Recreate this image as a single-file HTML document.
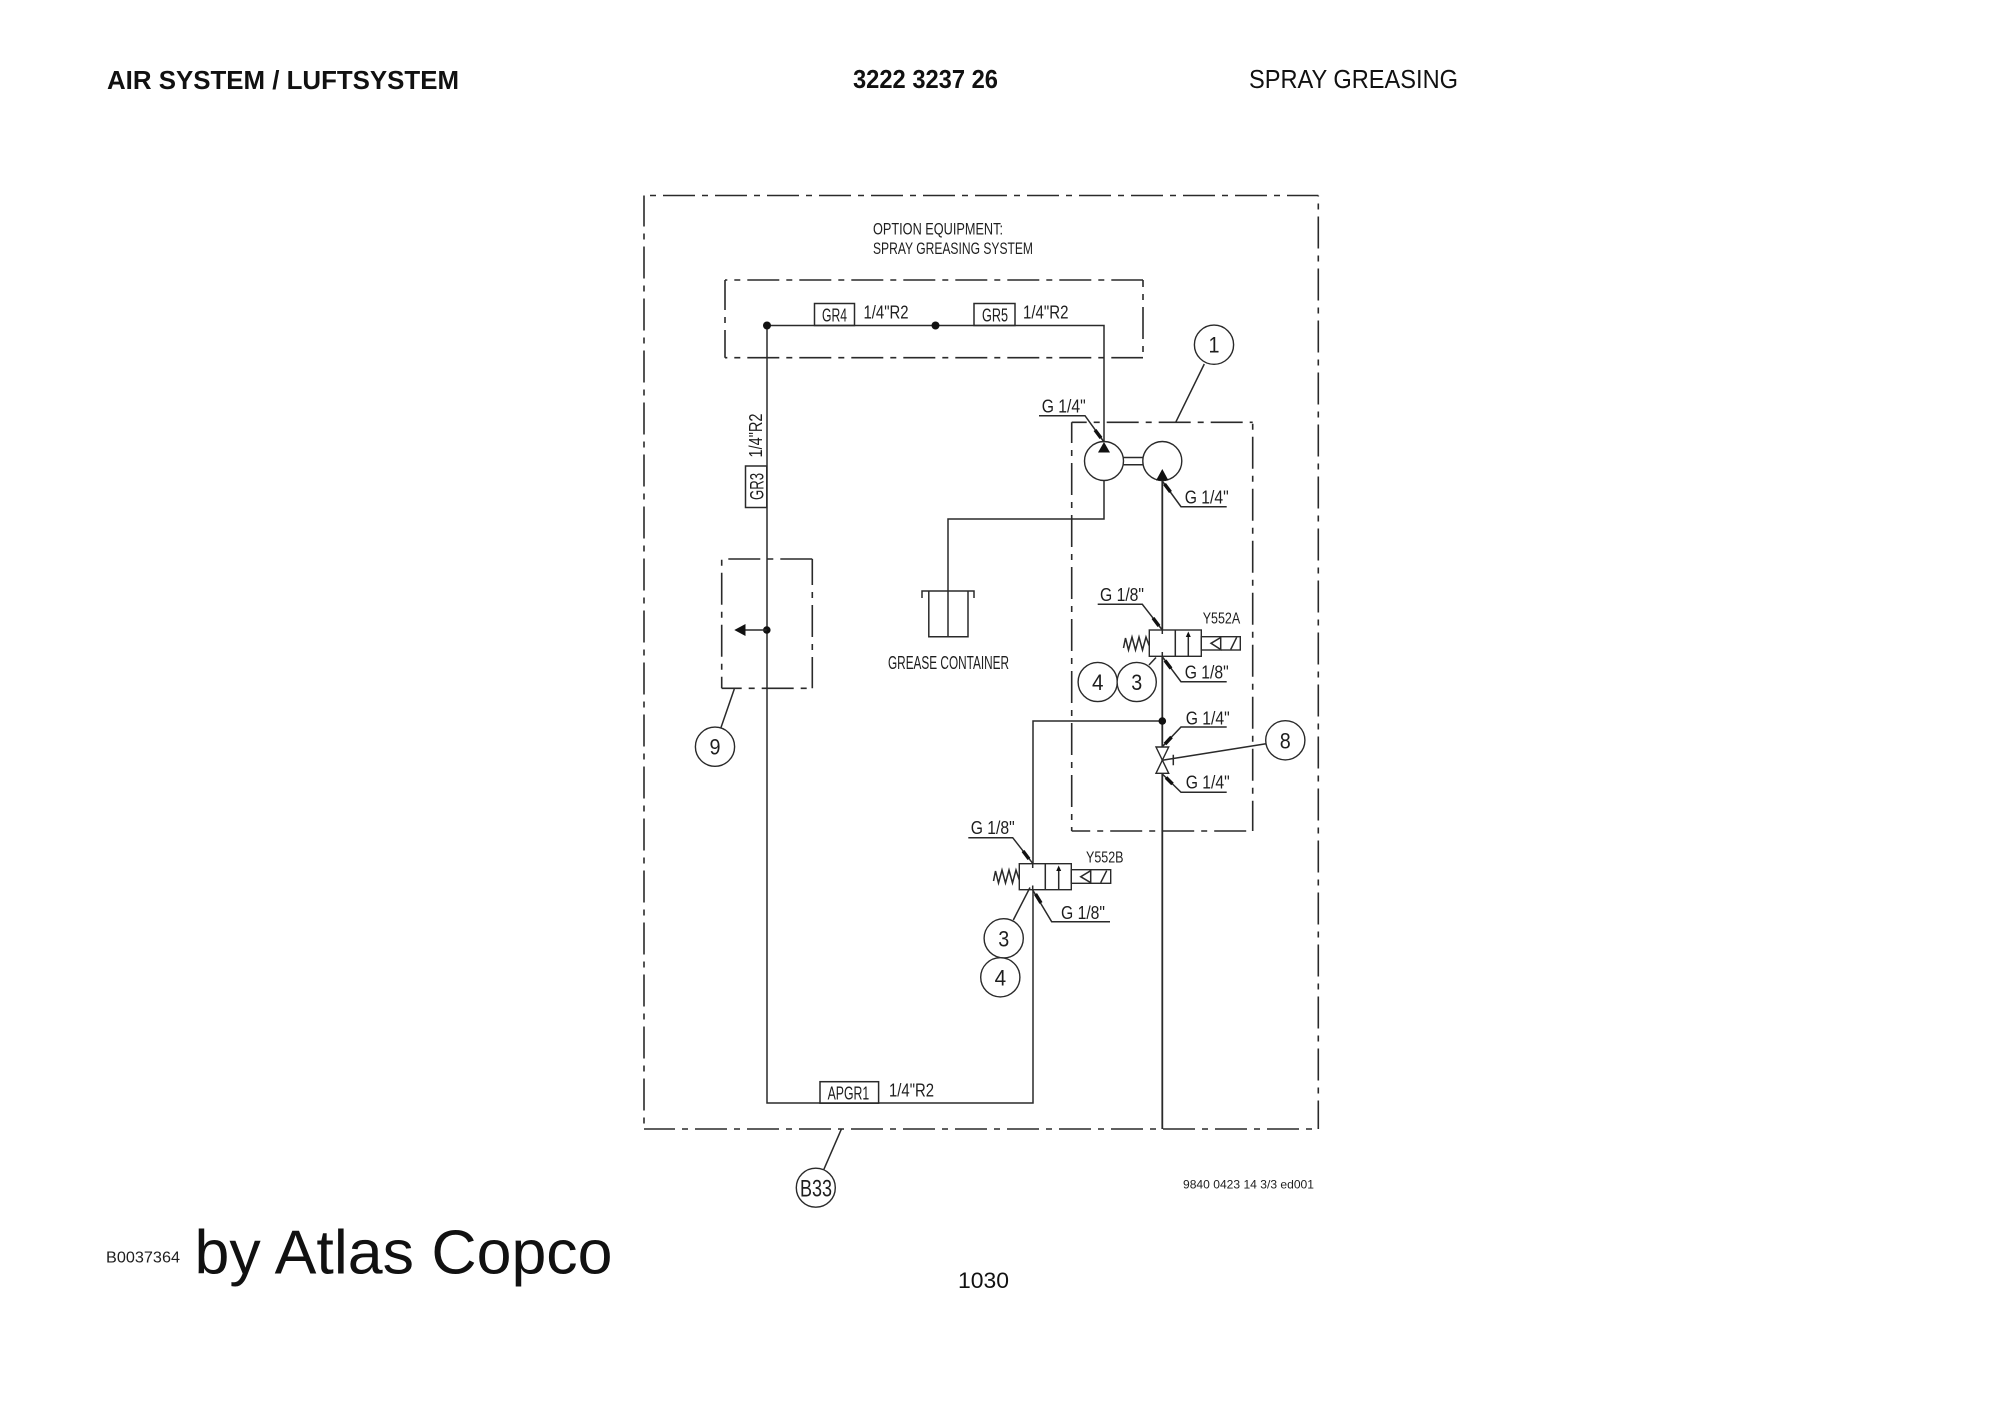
<!DOCTYPE html>
<html><head><meta charset="utf-8">
<style>
html,body{margin:0;padding:0;background:#fff;width:2000px;height:1414px;overflow:hidden}
svg{display:block}
.l{fill:none;stroke:#2a2a2a;stroke-width:1.5}
.d{fill:none;stroke:#2a2a2a;stroke-width:1.6;stroke-dasharray:32 7 6 7}
.c{fill:#fff;stroke:#2a2a2a;stroke-width:1.4}
.b{fill:#111;stroke:none}
.t{fill:#1e1e1e;stroke:none;font-family:"Liberation Sans",sans-serif;font-size:18px}
.n{fill:#1e1e1e;stroke:none;font-family:"Liberation Sans",sans-serif;font-size:22.5px}
.h{fill:#111;font-family:"Liberation Sans",sans-serif;font-size:25.5px}
</style></head><body>
<svg width="2000" height="1414" viewBox="0 0 2000 1414" xmlns="http://www.w3.org/2000/svg">
<rect width="2000" height="1414" fill="#fff"/>

<text class="h" x="107" y="89" font-weight="bold" textLength="352" lengthAdjust="spacingAndGlyphs">AIR SYSTEM / LUFTSYSTEM</text>
<text class="h" x="853" y="88" font-weight="bold" textLength="145" lengthAdjust="spacingAndGlyphs">3222 3237 26</text>
<text class="h" x="1249" y="88" textLength="209" lengthAdjust="spacingAndGlyphs">SPRAY GREASING</text>

<!-- outer box -->
<line class="d" x1="644" y1="195.5" x2="1318.3" y2="195.5" stroke-dashoffset="33"/>
<line class="d" x1="644" y1="195.5" x2="644" y2="1129" stroke-dashoffset="1"/>
<line class="d" x1="1318.3" y1="195.5" x2="1318.3" y2="1129" stroke-dashoffset="31"/>
<line class="d" x1="644" y1="1129" x2="1318.3" y2="1129" stroke-dashoffset="1"/>

<text class="t" x="873" y="234.5" style="font-size:17px" textLength="130" lengthAdjust="spacingAndGlyphs">OPTION EQUIPMENT:</text>
<text class="t" x="873" y="254" style="font-size:17px" textLength="160" lengthAdjust="spacingAndGlyphs">SPRAY GREASING SYSTEM</text>

<!-- GR box -->
<line class="d" x1="725" y1="280" x2="1143" y2="280" stroke-dashoffset="29.7"/>
<line class="d" x1="725" y1="280" x2="725" y2="357.7" stroke-dashoffset="2"/>
<line class="d" x1="1143" y1="280" x2="1143" y2="357.7" stroke-dashoffset="25"/>
<line class="d" x1="725" y1="357.7" x2="1143" y2="357.7" stroke-dashoffset="29.7"/>

<!-- box 1 -->
<line class="d" x1="1071.7" y1="422.3" x2="1252.7" y2="422.3" stroke-dashoffset="17"/>
<line class="d" x1="1071.7" y1="422.3" x2="1071.7" y2="831" stroke-dashoffset="11.3"/>
<line class="d" x1="1252.7" y1="422.3" x2="1252.7" y2="831" stroke-dashoffset="37.6"/>
<line class="d" x1="1071.7" y1="831" x2="1252.7" y2="831" stroke-dashoffset="13.5"/>

<!-- box 9 -->
<line class="d" x1="721.7" y1="559" x2="812.3" y2="559" stroke-dashoffset="45.4"/>
<line class="d" x1="721.7" y1="559" x2="721.7" y2="688.3" stroke-dashoffset="38.3"/>
<line class="d" x1="812.3" y1="559" x2="812.3" y2="688.3" stroke-dashoffset="6"/>
<line class="d" x1="721.7" y1="688.3" x2="812.3" y2="688.3" stroke-dashoffset="12"/>

<!-- pipes -->
<path class="l" d="M1104 442V325.5H767V1103H1033V721H1162.3"/>
<path class="l" d="M1104 481V519H948V637"/>
<line class="l" x1="1162.3" y1="480" x2="1162.3" y2="1129" style="stroke-width:1.8"/>

<!-- labelled tags -->
<rect class="l" x="814.5" y="303.5" width="40" height="22"/>
<text class="t" x="822" y="321.7" textLength="25" lengthAdjust="spacingAndGlyphs">GR4</text>
<text class="t" x="863.5" y="318.3" textLength="45" lengthAdjust="spacingAndGlyphs">1/4"R2</text>
<rect class="l" x="974" y="303.5" width="41" height="22"/>
<text class="t" x="982" y="321.7" textLength="26" lengthAdjust="spacingAndGlyphs">GR5</text>
<text class="t" x="1023" y="318.3" textLength="45.5" lengthAdjust="spacingAndGlyphs">1/4"R2</text>
<rect class="l" x="745.5" y="466" width="21.3" height="41.5"/>
<text class="t" transform="translate(763.5,500) rotate(-90)" style="font-size:19px" textLength="27" lengthAdjust="spacingAndGlyphs">GR3</text>
<text class="t" transform="translate(762,457.5) rotate(-90)" textLength="44" lengthAdjust="spacingAndGlyphs">1/4"R2</text>
<rect class="l" x="820" y="1081.7" width="58.6" height="21.5"/>
<text class="t" x="827.6" y="1099.3" textLength="41.6" lengthAdjust="spacingAndGlyphs">APGR1</text>
<text class="t" x="889" y="1096.7" textLength="45" lengthAdjust="spacingAndGlyphs">1/4"R2</text>

<circle class="b" cx="767" cy="325.5" r="4"/>
<circle class="b" cx="935.5" cy="325.5" r="4"/>
<circle class="b" cx="1162.3" cy="721" r="3.8"/>

<!-- box 9 contents -->
<circle class="b" cx="766.8" cy="630" r="3.8"/>
<line class="l" x1="766.8" y1="630" x2="745" y2="630"/>
<path class="b" d="M734.3 630L745.5 624V636Z"/>
<line class="l" x1="734.3" y1="689" x2="721" y2="727.5"/>
<circle class="c" cx="715" cy="746.7" r="19.6"/>
<text class="n" x="709.5" y="754.7" textLength="11" lengthAdjust="spacingAndGlyphs">9</text>

<!-- container -->
<path class="l" d="M922 598V591H974V598M928.8 591V636.8H968V591"/>
<text class="t" x="888" y="669" textLength="121" lengthAdjust="spacingAndGlyphs">GREASE CONTAINER</text>

<!-- pumps -->
<circle class="c" cx="1104" cy="461" r="19.5"/>
<circle class="c" cx="1162.3" cy="461" r="19.5"/>
<path class="l" d="M1123.5 457.5H1142.7M1123.5 464.7H1142.7"/>
<path class="b" d="M1104 442L1110 452.5H1098Z"/>
<path class="b" d="M1162.3 469L1168.5 480.5H1156Z"/>
<path class="l" d="M1039 415.7H1085L1104 442"/>
<line x1="1095" y1="430" x2="1101" y2="438" stroke="#111" stroke-width="3.5"/>
<text class="t" x="1041.7" y="412.7" textLength="44" lengthAdjust="spacingAndGlyphs">G 1/4"</text>
<path class="l" d="M1226.7 506.7H1181L1162.3 481"/>
<line x1="1164.5" y1="484" x2="1170.5" y2="492" stroke="#111" stroke-width="3.5"/>
<text class="t" x="1184.7" y="503.7" textLength="44" lengthAdjust="spacingAndGlyphs">G 1/4"</text>

<line class="l" x1="1175.7" y1="422.3" x2="1204.3" y2="364"/>
<circle class="c" cx="1214" cy="344.7" r="19.6"/>
<text class="n" x="1208.5" y="352.7" textLength="11" lengthAdjust="spacingAndGlyphs">1</text>

<!-- Y552A -->
<rect class="c" x="1149.3" y="630" width="52" height="26.3"/>
<path class="l" d="M1175.3 630V656.3M1188.3 656.3V635"/>
<path class="b" d="M1188.3 631.5L1190.8 637H1185.8Z"/>
<path class="l" d="M1162.3 630V634M1162.3 652V656.3"/>
<rect class="c" x="1201.3" y="636.7" width="39" height="13.3"/>
<path class="l" d="M1220.7 637.5L1211 643.3L1220.7 649.5ZM1230.7 649.5L1236.7 637.3"/>
<path class="l" d="M1149.3 646L1146 637L1142.5 650L1139 637L1135.5 650L1132 637L1128.5 650L1125.5 638L1123.5 648"/>
<text class="t" x="1202.7" y="623.3" style="font-size:16px" textLength="37.5" lengthAdjust="spacingAndGlyphs">Y552A</text>
<path class="l" d="M1097.7 604.3H1142.3L1162.3 630"/>
<line x1="1153" y1="618" x2="1159" y2="626" stroke="#111" stroke-width="3.5"/>
<text class="t" x="1100" y="601" textLength="44" lengthAdjust="spacingAndGlyphs">G 1/8"</text>
<path class="l" d="M1226.7 681.7H1181L1162.3 656.7"/>
<line x1="1165" y1="660.5" x2="1171" y2="668.5" stroke="#111" stroke-width="3.5"/>
<text class="t" x="1184.7" y="678.3" textLength="44" lengthAdjust="spacingAndGlyphs">G 1/8"</text>
<line class="l" x1="1156" y1="657.5" x2="1149" y2="665"/>
<circle class="c" cx="1097.7" cy="682" r="19.6"/>
<text class="n" x="1092" y="690" textLength="11.5" lengthAdjust="spacingAndGlyphs">4</text>
<circle class="c" cx="1136.7" cy="682" r="19.6"/>
<text class="n" x="1131.2" y="690" textLength="11" lengthAdjust="spacingAndGlyphs">3</text>

<!-- check valve 8 -->
<path class="c" d="M1156 747H1168.7L1156 773.3H1168.7Z"/>
<path class="l" d="M1226.7 727H1181L1162.3 746.7"/>
<line x1="1165" y1="744" x2="1171.5" y2="737" stroke="#111" stroke-width="3.5"/>
<text class="t" x="1185.7" y="724.3" textLength="44" lengthAdjust="spacingAndGlyphs">G 1/4"</text>
<path class="l" d="M1226.7 792.3H1181L1162.3 774"/>
<line x1="1166" y1="777.5" x2="1172.5" y2="784" stroke="#111" stroke-width="3.5"/>
<text class="t" x="1185.7" y="788.3" textLength="44" lengthAdjust="spacingAndGlyphs">G 1/4"</text>
<path class="l" d="M1162.3 760.3L1266 743.7M1173.3 754.7V765.3"/>
<circle class="c" cx="1285.3" cy="740.3" r="19.6"/>
<text class="n" x="1279.8" y="748.3" textLength="11" lengthAdjust="spacingAndGlyphs">8</text>

<!-- Y552B -->
<rect class="c" x="1019.3" y="863.7" width="52" height="26"/>
<path class="l" d="M1045.3 863.7V889.7M1058.7 889.7V869"/>
<path class="b" d="M1058.7 865.5L1061.2 871H1056.2Z"/>
<path class="l" d="M1032.7 863.7V868M1032.7 885.5V889.7"/>
<rect class="c" x="1071.3" y="869.7" width="39.4" height="13.6"/>
<path class="l" d="M1090.7 870.7L1080.7 876.7L1090.7 882.7ZM1100.7 882.7L1106.7 870.7"/>
<path class="l" d="M1019.3 880L1016 870L1012.5 883L1009 870L1005.5 883L1002 870L998.5 883L995.5 871L993.5 881"/>
<text class="t" x="1086" y="862.7" style="font-size:16px" textLength="37.5" lengthAdjust="spacingAndGlyphs">Y552B</text>
<path class="l" d="M968.3 837.7H1012.7L1032.7 863.3"/>
<line x1="1023" y1="851" x2="1029" y2="859" stroke="#111" stroke-width="3.5"/>
<text class="t" x="970.7" y="834" textLength="44" lengthAdjust="spacingAndGlyphs">G 1/8"</text>
<path class="l" d="M1110 921.7H1051.7L1032.7 890"/>
<line x1="1035.5" y1="894" x2="1041" y2="903" stroke="#111" stroke-width="3.5"/>
<text class="t" x="1061" y="919" textLength="44" lengthAdjust="spacingAndGlyphs">G 1/8"</text>
<line class="l" x1="1030" y1="887.5" x2="1013.3" y2="920"/>
<circle class="c" cx="1003.7" cy="938.3" r="19.6"/>
<text class="n" x="998.2" y="946.3" textLength="11" lengthAdjust="spacingAndGlyphs">3</text>
<circle class="c" cx="1000.3" cy="977.3" r="19.6"/>
<text class="n" x="994.6" y="985.3" textLength="11.5" lengthAdjust="spacingAndGlyphs">4</text>

<!-- B33 -->
<line class="l" x1="841.3" y1="1129.3" x2="823.9" y2="1169.3"/>
<circle class="c" cx="815.8" cy="1187.7" r="19.5"/>
<text class="t" x="800" y="1196.7" style="font-size:24px" textLength="32" lengthAdjust="spacingAndGlyphs">B33</text>

<text class="t" x="1183" y="1188.3" style="font-size:11.8px" textLength="131" lengthAdjust="spacingAndGlyphs">9840 0423 14 3/3 ed001</text>
<text class="t" x="958" y="1288" style="font-size:22.5px;fill:#111" textLength="51" lengthAdjust="spacingAndGlyphs">1030</text>
<text class="t" x="106" y="1262.3" style="font-size:15.5px" textLength="74" lengthAdjust="spacingAndGlyphs">B0037364</text>
<text x="194.5" y="1273.5" font-family="'Liberation Sans',sans-serif" font-size="62" fill="#111" textLength="418" lengthAdjust="spacingAndGlyphs">by Atlas Copco</text>
</svg>
</body></html>
